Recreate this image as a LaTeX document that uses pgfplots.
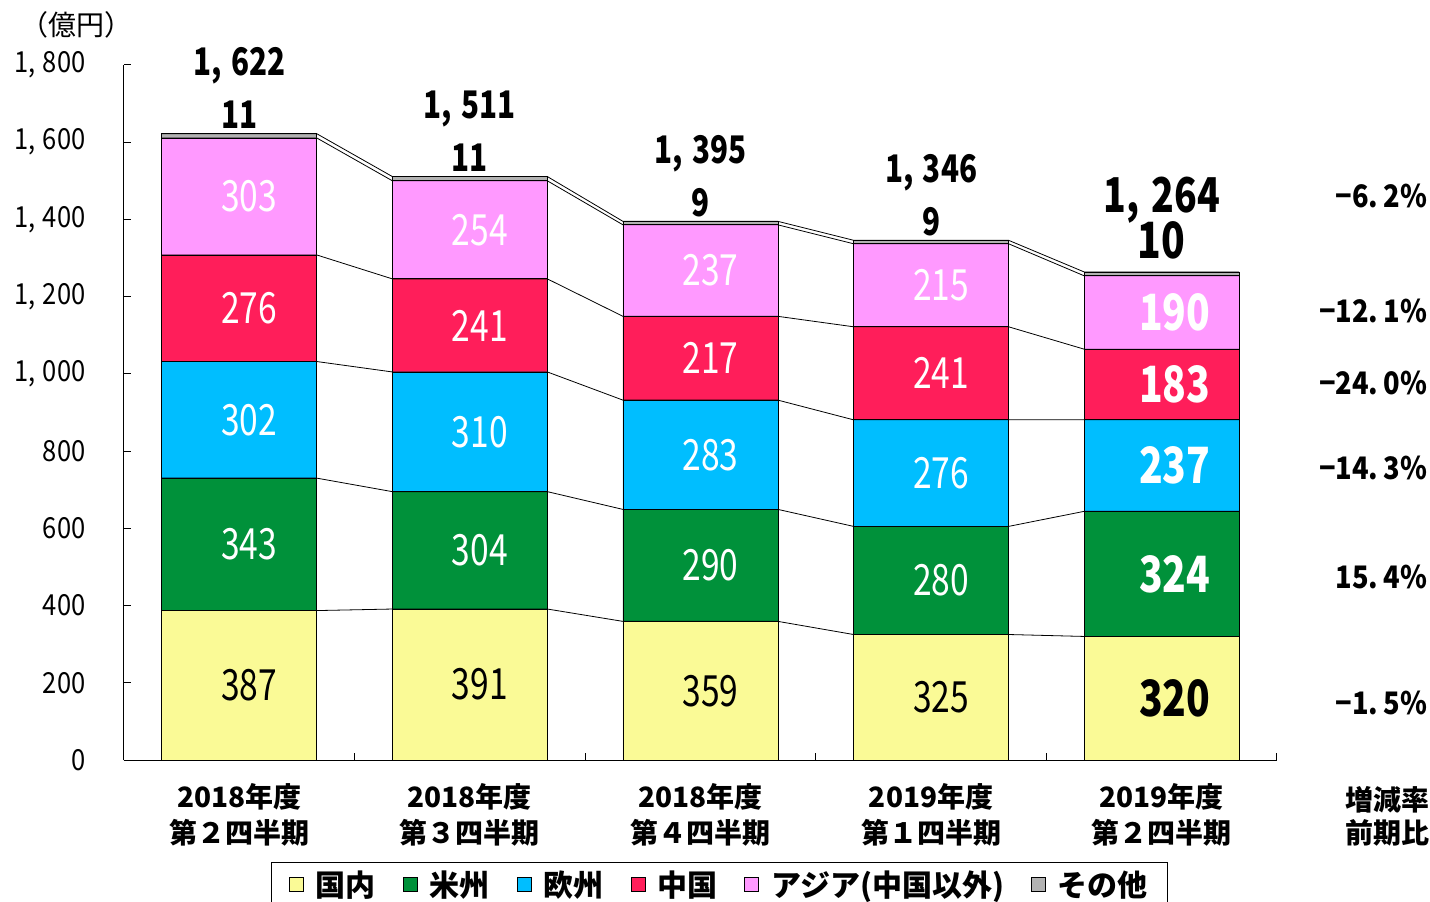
\documentclass[border=0pt]{standalone}
\usepackage{fontspec}
\setmainfont{Noto Sans CJK JP}
\newfontfamily\nf[FakeStretch=0.78]{Noto Sans CJK JP}
\newfontfamily\tf[FakeStretch=0.88]{Noto Sans CJK JP}
\usepackage{pgfplots}
\usepackage{pgfplotstable}
\pgfplotsset{compat=1.18}

\definecolor{cDom}{RGB}{250,250,150}
\definecolor{cAme}{RGB}{0,145,58}
\definecolor{cEur}{RGB}{0,190,255}
\definecolor{cChn}{RGB}{255,30,90}
\definecolor{cAsia}{RGB}{255,153,255}
\definecolor{cOth}{RGB}{178,178,178}

\pgfplotstableread{
x dom ame eur chn asia oth
0 387 343 302 276 303 11
1 391 304 310 241 254 11
2 359 290 283 217 237 9
3 325 280 276 241 215 9
4 320 324 237 183 190 10
}\datatable

% cumulative boundaries at the left and right edge of each bar
\pgfplotstableread{
x c1 c2 c3 c4 c5 c6
-0.336 387 730 1032 1308 1611 1622
0.336 387 730 1032 1308 1611 1622
0.664 391 695 1005 1246 1500 1511
1.336 391 695 1005 1246 1500 1511
1.664 359 649 932 1149 1386 1395
2.336 359 649 932 1149 1386 1395
2.664 325 605 881 1122 1337 1346
3.336 325 605 881 1122 1337 1346
3.664 320 644 881 1064 1254 1264
4.336 320 644 881 1064 1254 1264
}\edgetable

\pgfplotsset{
  /pgf/number format/assume math mode=true,
  /pgf/number format/1000 sep={,\hspace{0.25em}},
  base/.style={width=1153pt, height=695pt, scale only axis,
    xmin=-0.5, xmax=4.5, ymin=0, ymax=1800,
    at={(0pt,0pt)}, anchor=south west},
  lbl/.style={draw=none, mark=none, nodes near coords, point meta=explicit,
    nodes near coords align=center,
    every node near coord/.append style={inner sep=0pt, anchor=center}},
  lblN/.style={lbl, restrict x to domain=-1:3.5,
    every node near coord/.append style={xshift=10pt, font=\nf\fontsize{43}{45}\selectfont, text=#1}},
  lblB/.style={lbl, restrict x to domain=3.5:4.5,
    every node near coord/.append style={xshift=13pt, font=\nf\bfseries\fontsize{50}{52}\selectfont, text=#1}},
}

\begin{document}
\begin{tikzpicture}
\useasboundingbox (-124pt,-142pt) rectangle (1306pt,760pt);
\begin{axis}[base,
  ybar stacked, bar width=155pt,
  axis x line*=bottom, axis y line*=left,
  axis line style={line width=1pt},
  tick align=inside,
  major tick length=7pt, minor tick length=7pt,
  tick style={line width=1pt, black},
  ytick={0,200,...,1800},
  yticklabel style={font=\tf\fontsize{29}{30}\selectfont, xshift=-35pt},
  xtick={0,1,2,3,4},
  major x tick style={draw=none},
  minor xtick={-0.5,0.5,1.5,2.5,3.5,4.5},
  xticklabels={{2018年度\\第２四半期},{2018年度\\第３四半期},{2018年度\\第４四半期},{2019年度\\第１四半期},{2019年度\\第２四半期}},
  xticklabel style={align=center, font=\bfseries\fontsize{28}{36}\selectfont, yshift=-20pt},
  legend columns=6,
  legend style={at={(axis description cs:0.5165,-0.1468)}, anchor=north,
    draw=black, line width=1.2pt,
    font=\bfseries\fontsize{30}{32}\selectfont,
    inner xsep=18pt, inner ysep=6pt,
    /tikz/every even column/.append style={column sep=25pt},
    /tikz/every odd column/.append style={column sep=10pt}},
  legend image code/.code={\draw[#1, line width=0.8pt] (0pt,-7pt) rectangle (14pt,7pt);},
]
\addplot[fill=cDom, draw=black, line width=0.9pt] table[x=x,y=dom]{\datatable};
\addplot[fill=cAme, draw=black, line width=0.9pt] table[x=x,y=ame]{\datatable};
\addplot[fill=cEur, draw=black, line width=0.9pt] table[x=x,y=eur]{\datatable};
\addplot[fill=cChn, draw=black, line width=0.9pt] table[x=x,y=chn]{\datatable};
\addplot[fill=cAsia, draw=black, line width=0.9pt] table[x=x,y=asia]{\datatable};
\addplot[fill=cOth, draw=black, line width=0.9pt] table[x=x,y=oth]{\datatable};
\legend{国内,米州,欧州,中国,アジア(中国以外),その他}
\end{axis}

\begin{axis}[base, hide axis, clip=false]
% connector lines
\addplot[black, line width=0.8pt, mark=none] table[x=x,y=c1]{\edgetable};
\addplot[black, line width=0.8pt, mark=none] table[x=x,y=c2]{\edgetable};
\addplot[black, line width=0.8pt, mark=none] table[x=x,y=c3]{\edgetable};
\addplot[black, line width=0.8pt, mark=none] table[x=x,y=c4]{\edgetable};
\addplot[black, line width=0.8pt, mark=none] table[x=x,y=c5]{\edgetable};
\addplot[black, line width=0.8pt, mark=none] table[x=x,y=c6]{\edgetable};
% segment labels
\addplot[lblN=black] table[x=x, y expr=\thisrow{dom}/2, meta=dom]{\datatable};
\addplot[lblN=white] table[x=x, y expr=\thisrow{dom}+\thisrow{ame}/2, meta=ame]{\datatable};
\addplot[lblN=white] table[x=x, y expr=\thisrow{dom}+\thisrow{ame}+\thisrow{eur}/2, meta=eur]{\datatable};
\addplot[lblN=white] table[x=x, y expr=\thisrow{dom}+\thisrow{ame}+\thisrow{eur}+\thisrow{chn}/2, meta=chn]{\datatable};
\addplot[lblN=white] table[x=x, y expr=\thisrow{dom}+\thisrow{ame}+\thisrow{eur}+\thisrow{chn}+\thisrow{asia}/2, meta=asia]{\datatable};
\addplot[lblB=black] table[x=x, y expr=\thisrow{dom}/2, meta=dom]{\datatable};
\addplot[lblB=white] table[x=x, y expr=\thisrow{dom}+\thisrow{ame}/2, meta=ame]{\datatable};
\addplot[lblB=white] table[x=x, y expr=\thisrow{dom}+\thisrow{ame}+\thisrow{eur}/2, meta=eur]{\datatable};
\addplot[lblB=white] table[x=x, y expr=\thisrow{dom}+\thisrow{ame}+\thisrow{eur}+\thisrow{chn}/2, meta=chn]{\datatable};
\addplot[lblB=white] table[x=x, y expr=\thisrow{dom}+\thisrow{ame}+\thisrow{eur}+\thisrow{chn}+\thisrow{asia}/2, meta=asia]{\datatable};
% other + totals above bars
\addplot[draw=none, mark=none, nodes near coords, point meta=explicit, restrict x to domain=-1:3.5,
  every node near coord/.append style={inner sep=0pt, anchor=base, yshift=5pt, text=black, font=\nf\bfseries\fontsize{38}{40}\selectfont}]
  table[x=x, y expr=\thisrow{dom}+\thisrow{ame}+\thisrow{eur}+\thisrow{chn}+\thisrow{asia}+\thisrow{oth}, meta=oth]{\datatable};
\addplot[draw=none, mark=none, nodes near coords, point meta=explicit, restrict x to domain=3.5:4.5,
  every node near coord/.append style={inner sep=0pt, anchor=base, yshift=13pt, text=black, font=\nf\bfseries\fontsize{50}{52}\selectfont}]
  table[x=x, y expr=\thisrow{dom}+\thisrow{ame}+\thisrow{eur}+\thisrow{chn}+\thisrow{asia}+\thisrow{oth}, meta=oth]{\datatable};
\addplot[draw=none, mark=none, nodes near coords, point meta=y, restrict x to domain=-1:3.5,
  every node near coord/.append style={inner sep=0pt, anchor=base, yshift=58pt, text=black, font=\nf\bfseries\fontsize{38}{40}\selectfont}]
  table[x=x, y expr=\thisrow{dom}+\thisrow{ame}+\thisrow{eur}+\thisrow{chn}+\thisrow{asia}+\thisrow{oth}]{\datatable};
\addplot[draw=none, mark=none, nodes near coords, point meta=y, restrict x to domain=3.5:4.5,
  every node near coord/.append style={inner sep=0pt, anchor=base, yshift=59pt, text=black, font=\nf\bfseries\fontsize{48}{50}\selectfont}]
  table[x=x, y expr=\thisrow{dom}+\thisrow{ame}+\thisrow{eur}+\thisrow{chn}+\thisrow{asia}+\thisrow{oth}]{\datatable};
% growth rates
\begin{scope}[every node/.style={anchor=east, inner sep=0pt, font=\tf\bfseries\fontsize{31}{33}\selectfont}]
\node at (axis cs:5.152,1461) {−6.\,2\%};
\node at (axis cs:5.152,1163) {−12.\,1\%};
\node at (axis cs:5.152,976) {−24.\,0\%};
\node at (axis cs:5.152,756) {−14.\,3\%};
\node at (axis cs:5.152,474) {15.\,4\%};
\node at (axis cs:5.152,148) {−1.\,5\%};
\end{scope}
\node[anchor=north west, align=left, inner sep=0pt, font=\bfseries\fontsize{28}{33}\selectfont] at (axis cs:4.795,-68) {増減率\\前期比};
\node[inner sep=0pt, font=\fontsize{28}{30}\selectfont] at (axis cs:-0.704,1904) {（億円）};
\end{axis}
\end{tikzpicture}
\end{document}
